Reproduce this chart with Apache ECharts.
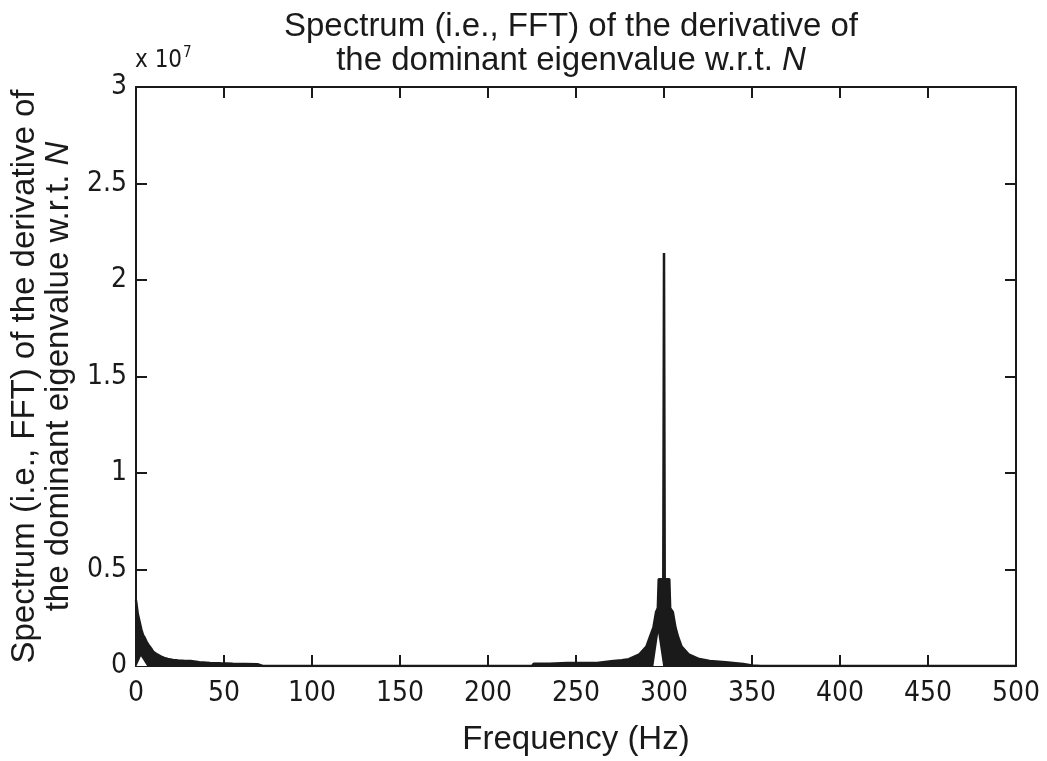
<!DOCTYPE html>
<html>
<head>
<meta charset="utf-8">
<style>
html,body{margin:0;padding:0;background:#fff;}
#chart{width:1047px;height:761px;}
</style>
<script src="https://cdn.jsdelivr.net/npm/echarts@6/dist/echarts.min.js"></script>
</head>
<body>
<div id="chart"></div>
<script>
// Spectrum magnitude, in units of 1e7
const freqHz = [0,1,2,3,4,5,6,7,8,9,10,12,14,16,18,21,24,27,31,36,42,48,55,62,69,72,
  225,226,235,245,255,262,270,276,280,286,290,292,294,295.5,296.5,297,299.6,300,300.4,303,303.5,305,306.5,308,310,314,320,326,335,345,350,355,500];
const magnitude = [0.34,0.27,0.23,0.19,0.16,0.145,0.125,0.11,0.1,0.085,0.072,0.06,0.05,0.042,0.036,0.031,0.028,0.027,0.026,0.02,0.016,0.014,0.012,0.011,0.009,0,
  0,0.012,0.012,0.015,0.015,0.015,0.025,0.03,0.035,0.06,0.1,0.15,0.2,0.28,0.3,0.45,0.45,2.14,0.45,0.45,0.3,0.28,0.2,0.15,0.1,0.06,0.036,0.026,0.02,0.01,0.003,0,0];
// hollow gaps inside the filled spectrum near 0 Hz and 300 Hz
const gapFreqLow = [0.3,2.8,6.3];
const gapMagLow = [0,0.05,0];
const gapFreqPeak = [294,296.7,299.5];
const gapMagPeak = [0,0.17,0];

const xTicks = [0,50,100,150,200,250,300,350,400,450,500];
const yTicks = [0,0.5,1,1.5,2,2.5,3];

const titleText = 'Spectrum (i.e., FFT) of the derivative of\nthe dominant eigenvalue w.r.t. {i|N}';
const yName = 'Spectrum (i.e., FFT) of the derivative of\nthe dominant eigenvalue w.r.t. {i|N}';
const xName = 'Frequency (Hz)';

const zip = (a, b) => a.map((v, i) => [v, b[i]]);

const FONT = '"Liberation Sans", Arial, sans-serif';
const NARROW = '"Liberation Sans Narrow", "DejaVu Sans Condensed", sans-serif';
const INK = '#1a1a1a';

const chart = echarts.init(document.getElementById('chart'), null, {renderer: 'canvas'});

const xCommon = {
  type: 'value', min: 0, max: 500, interval: 50,
  splitLine: {show: false},
  axisLine: {show: true, onZero: false, lineStyle: {color: INK, width: 2}},
  axisTick: {show: true, inside: true, length: 11, lineStyle: {color: INK, width: 2}}
};
const yCommon = {
  type: 'value', min: 0, max: 3, interval: 0.5,
  splitLine: {show: false},
  axisLine: {show: true, onZero: false, lineStyle: {color: INK, width: 2}},
  axisTick: {show: true, inside: true, length: 11, lineStyle: {color: INK, width: 2}}
};

chart.setOption({
  backgroundColor: '#fff',
  animation: false,
  title: {
    text: titleText,
    left: 566, top: 5, textAlign: 'center',
    textStyle: {
      fontFamily: FONT, fontSize: 33, fontWeight: 'normal', color: INK, lineHeight: 34,
      rich: {i: {fontFamily: FONT, fontSize: 33, fontStyle: 'italic', color: INK, lineHeight: 34}}
    }
  },
  graphic: [{
    type: 'text', left: 135, top: 46,
    style: {
      text: 'x 10{s|7}',
      fontFamily: NARROW, fontSize: 24, fill: INK,
      rich: {s: {fontFamily: NARROW, fontSize: 15, verticalAlign: 'top', padding: [0,0,14,1], fill: INK}}
    }
  }],
  grid: {left: 136, right: 31, top: 87, bottom: 94, show: false, containLabel: false},
  xAxis: [
    Object.assign({}, xCommon, {
      position: 'bottom',
      name: xName, nameLocation: 'middle', nameGap: 57,
      nameTextStyle: {fontFamily: FONT, fontSize: 33, color: INK},
      axisLabel: {show: true, margin: 14, fontFamily: NARROW, fontSize: 28, color: INK,
        formatter: v => xTicks.includes(v) ? String(v) : ''}
    }),
    Object.assign({}, xCommon, {position: 'top', axisLabel: {show: false}})
  ],
  yAxis: [
    Object.assign({}, yCommon, {
      position: 'left',
      name: yName, nameLocation: 'middle', nameGap: 55, nameRotate: 90,
      nameTextStyle: {fontFamily: FONT, fontSize: 33, color: INK, lineHeight: 34,
        rich: {i: {fontFamily: FONT, fontSize: 33, fontStyle: 'italic', color: INK, lineHeight: 34}}},
      axisLabel: {show: true, margin: 9, fontFamily: NARROW, fontSize: 28, color: INK,
        formatter: v => yTicks.includes(v) ? String(v) : ''}
    }),
    Object.assign({}, yCommon, {position: 'right', axisLabel: {show: false}})
  ],
  series: [
    {
      type: 'line', xAxisIndex: 0, yAxisIndex: 0,
      data: zip(freqHz, magnitude),
      showSymbol: false, symbol: 'none',
      lineStyle: {color: INK, width: 2.5},
      areaStyle: {color: INK, opacity: 1},
      z: 2
    },
    {
      type: 'line', xAxisIndex: 0, yAxisIndex: 0,
      data: zip(gapFreqLow, gapMagLow),
      showSymbol: false, symbol: 'none',
      lineStyle: {width: 0},
      areaStyle: {color: '#fff', opacity: 1},
      z: 3
    },
    {
      type: 'line', xAxisIndex: 0, yAxisIndex: 0,
      data: zip(gapFreqPeak, gapMagPeak),
      showSymbol: false, symbol: 'none',
      lineStyle: {width: 0},
      areaStyle: {color: '#fff', opacity: 1},
      z: 3
    }
  ]
});
</script>
</body>
</html>
